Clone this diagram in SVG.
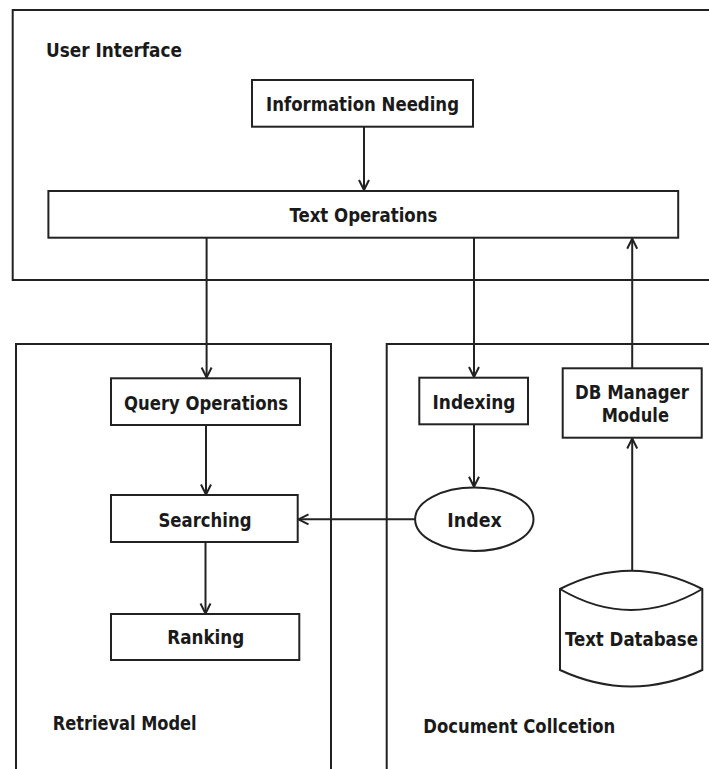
<svg xmlns="http://www.w3.org/2000/svg" width="709" height="769" viewBox="0 0 709 769">
  <defs>
    <style>
      .frame { fill: none; stroke: #222; stroke-width: 2; }
      .box { fill: #fff; stroke: #222; stroke-width: 2; }
      .edge { fill: none; stroke: #222; stroke-width: 2; }
      .label { font-family: "DejaVu Sans Condensed", "DejaVu Sans", sans-serif; font-weight: bold; font-size: 19px; fill: #1a1a1a; }
      .mid { text-anchor: middle; }
    </style>
    <marker id="arrow" viewBox="-12 -7 14 14" refX="0" refY="0" markerWidth="14" markerHeight="14" markerUnits="userSpaceOnUse" orient="auto">
      <path d="M-10,-5 L0,0 L-10,5" fill="none" stroke="#222" stroke-width="2"/>
    </marker>
  </defs>
  <rect width="709" height="769" fill="#fff"/>

  <!-- subsystem frames (open towards the page edges) -->
  <g id="user-interface">
    <path class="frame" d="M712,10 H12.7 V280 H712"/>
    <text class="label" x="46" y="57" textLength="136" lengthAdjust="spacingAndGlyphs">User Interface</text>
  </g>
  <g id="retrieval-model">
    <path class="frame" d="M16,772 V344 H331 V772"/>
    <text class="label" x="52.7" y="730" textLength="144" lengthAdjust="spacingAndGlyphs">Retrieval Model</text>
  </g>
  <g id="document-collection">
    <path class="frame" d="M386.7,772 V344 H712"/>
    <text class="label" x="423.3" y="733.3" textLength="192" lengthAdjust="spacingAndGlyphs">Document Collcetion</text>
  </g>

  <!-- connectors -->
  <g id="connectors">
    <line class="edge" x1="364" y1="127" x2="364" y2="190" marker-end="url(#arrow)"/>
    <line class="edge" x1="206.6" y1="237.7" x2="206.6" y2="377.5" marker-end="url(#arrow)"/>
    <line class="edge" x1="474" y1="237.7" x2="474" y2="377" marker-end="url(#arrow)"/>
    <line class="edge" x1="632.2" y1="368.3" x2="632.2" y2="238.7" marker-end="url(#arrow)"/>
    <line class="edge" x1="206" y1="425" x2="206" y2="494.5" marker-end="url(#arrow)"/>
    <line class="edge" x1="205.5" y1="542" x2="205.5" y2="613.5" marker-end="url(#arrow)"/>
    <line class="edge" x1="474" y1="424.3" x2="474" y2="486.8" marker-end="url(#arrow)"/>
    <line class="edge" x1="415" y1="519.3" x2="298.5" y2="519.3" marker-end="url(#arrow)"/>
    <line class="edge" x1="632.2" y1="570.7" x2="632.2" y2="438.5" marker-end="url(#arrow)"/>
  </g>

  <!-- nodes -->
  <g id="information-needing">
    <rect class="box" x="252" y="80" width="221" height="46.7"/>
    <text class="label mid" x="362.5" y="110.5" textLength="193" lengthAdjust="spacingAndGlyphs">Information Needing</text>
  </g>
  <g id="text-operations">
    <rect class="box" x="48.4" y="191" width="629.8" height="46.7"/>
    <text class="label mid" x="363.5" y="221.5" textLength="148" lengthAdjust="spacingAndGlyphs">Text Operations</text>
  </g>
  <g id="query-operations">
    <rect class="box" x="111" y="378.3" width="189" height="46.7"/>
    <text class="label mid" x="206" y="410" textLength="164" lengthAdjust="spacingAndGlyphs">Query Operations</text>
  </g>
  <g id="searching">
    <rect class="box" x="111" y="495" width="186.7" height="47"/>
    <text class="label mid" x="205" y="527" textLength="93" lengthAdjust="spacingAndGlyphs">Searching</text>
  </g>
  <g id="ranking">
    <rect class="box" x="111" y="614" width="188.3" height="46"/>
    <text class="label mid" x="205.8" y="644" textLength="77" lengthAdjust="spacingAndGlyphs">Ranking</text>
  </g>
  <g id="indexing">
    <rect class="box" x="419.3" y="377.7" width="108.7" height="46.6"/>
    <text class="label mid" x="474" y="408.5" textLength="83" lengthAdjust="spacingAndGlyphs">Indexing</text>
  </g>
  <g id="index">
    <ellipse class="box" cx="474.3" cy="519.3" rx="59.2" ry="31.7"/>
    <text class="label mid" x="474.5" y="526.5" textLength="54.4" lengthAdjust="spacingAndGlyphs">Index</text>
  </g>
  <g id="db-manager-module">
    <rect class="box" x="562.7" y="368.3" width="139" height="69.4"/>
    <text class="label mid" x="632" y="398.5" textLength="114" lengthAdjust="spacingAndGlyphs">DB Manager</text>
    <text class="label mid" x="635.3" y="422" textLength="67.3" lengthAdjust="spacingAndGlyphs">Module</text>
  </g>
  <g id="text-database">
    <path class="box" d="M560,589 Q631,552.4 702.3,589 V670 Q631,703 560,670 Z"/>
    <path class="edge" d="M560,589 Q631,631 702.3,589"/>
    <text class="label" x="565" y="645.5" textLength="133" lengthAdjust="spacingAndGlyphs">Text Database</text>
  </g>
</svg>
